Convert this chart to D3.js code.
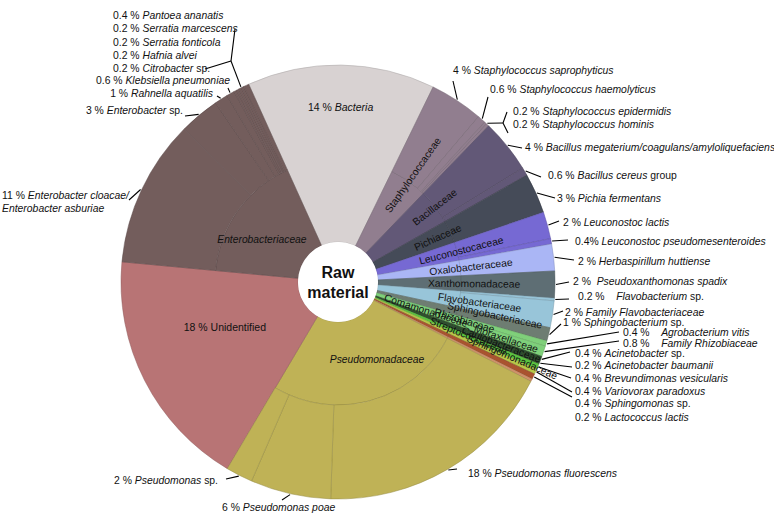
<!DOCTYPE html>
<html>
<head>
<meta charset="utf-8">
<script src="https://cdn.jsdelivr.net/npm/d3@7"></script>
<style>
body { margin: 0; background: #fff; }
svg text { font-family: "Liberation Sans", Arial, sans-serif; white-space: pre; fill: #111; }
</style>
</head>
<body>
<svg id="chart"></svg>
<script>
let width = 774
let height = 513
let cx = 338, cy = 282
let r0 = 40, r1 = 123, r2 = 217
let startDeg = -24.3

// families, clockwise from the top
let groups = ['Bacteria', 'Staphylococcaceae', 'Bacillaceae', 'Pichiaceae', 'Leuconostocaceae',
  'Oxalobacteraceae', 'Xanthomonadaceae', 'Flavobacteriaceae', 'Sphingobacteriaceae', 'Rhizobiaceae',
  'Moraxellaceae', 'Caulobacteraceae', 'Comamonadaceae', 'Sphingomonadaceae', 'Streptococcaceae',
  'Pseudomonadaceae', 'Unidentified', 'Enterobacteriaceae']

let groupColors = ['#d8d2d2', '#917e8f', '#625877', '#454b58', '#7669d3',
  '#aab6f5', '#5e6e74', '#98c5d9', '#6e7d72', '#7fd07a',
  '#2f4f2e', '#5cc43f', '#b5c84a', '#a9532f', '#d2916a',
  '#bfb256', '#b87475', '#735d5c']

// only used by groups that have no species below them
let groupValues = [14, null, null, null, null, null, null, null, null, null,
  null, null, null, null, null, null, 18, null]

let species = [
  [],
  ['Staphylococcus saprophyticus', 'Staphylococcus haemolyticus', 'Staphylococcus epidermidis', 'Staphylococcus hominis'],
  ['Bacillus megaterium/coagulans/amyloliquefaciens', 'Bacillus cereus group'],
  ['Pichia fermentans'],
  ['Leuconostoc lactis', 'Leuconostoc pseudomesenteroides'],
  ['Herbaspirillum huttiense'],
  ['Pseudoxanthomonas spadix'],
  ['Flavobacterium sp.', 'Family Flavobacteriaceae'],
  ['Sphingobacterium sp.'],
  ['Agrobacterium vitis', 'Family Rhizobiaceae'],
  ['Acinetobacter sp.', 'Acinetobacter baumanii'],
  ['Brevundimonas vesicularis'],
  ['Variovorax paradoxus'],
  ['Sphingomonas sp.'],
  ['Lactococcus lactis'],
  ['Pseudomonas fluorescens', 'Pseudomonas poae', 'Pseudomonas sp.'],
  [],
  ['Enterobacter cloacae/Enterobacter asburiae', 'Enterobacter sp.', 'Rahnella aquatilis', 'Klebsiella pneumoniae',
   'Citrobacter sp.', 'Hafnia alvei', 'Serratia fonticola', 'Serratia marcescens', 'Pantoea ananatis']
]

let speciesValues = [
  [],
  [4, 0.6, 0.2, 0.2],
  [4, 0.6],
  [3],
  [2, 0.4],
  [2],
  [2],
  [0.2, 2],
  [1],
  [0.4, 0.8],
  [0.4, 0.2],
  [0.4],
  [0.4],
  [0.4],
  [0.2],
  [18, 6, 2],
  [],
  [11, 3, 1, 0.6, 0.2, 0.2, 0.2, 0.2, 0.4]
]

// ---- layout of labels ----
// radial family labels: [start radius, angle nudge in degrees]
let radialLabels = {
  'Staphylococcaceae': [86, 0], 'Bacillaceae': [96, 0], 'Pichiaceae': [84, 0],
  'Leuconostocaceae': [84, 0], 'Oxalobacteraceae': [92, 0], 'Xanthomonadaceae': [90, 0],
  'Flavobacteriaceae': [101, 0], 'Sphingobacteriaceae': [112, -2], 'Rhizobiaceae': [101, -1],
  'Moraxellaceae': [144, -2.5], 'Caulobacteraceae': [133, -2], 'Comamonadaceae': [49, -6.5],
  'Sphingomonadaceae': [141, -2.5], 'Streptococcaceae': [100, -4.5]
}
// flat labels: [radius, angle nudge]
let flatLabels = {
  'Bacteria': [175, 0], 'Unidentified': [122, 5],
  'Enterobacteriaceae': [87, -6.5], 'Pseudomonadaceae': [87, -10.6]
}
// species labels: [x, y, anchor, leader end x, leader end y]
let speciesLabels = {
  'Enterobacter cloacae/Enterobacter asburiae': [2, 195, 'start', 129, 200],
  'Enterobacter sp.': [183, 110, 'end', 185, 116],
  'Rahnella aquatilis': [213, 93, 'end', 217, 96],
  'Klebsiella pneumoniae': [230, 80, 'end', 228, 88],
  'Pantoea ananatis': [113, 15, 'start'],
  'Serratia marcescens': [113, 28, 'start'],
  'Serratia fonticola': [113, 42, 'start'],
  'Hafnia alvei': [113, 55, 'start'],
  'Citrobacter sp.': [113, 68, 'start'],
  'Staphylococcus saprophyticus': [453, 70, 'start', 453, 81],
  'Staphylococcus haemolyticus': [490, 89, 'start', 488, 97],
  'Staphylococcus epidermidis': [513, 111, 'start'],
  'Staphylococcus hominis': [513, 124, 'start'],
  'Bacillus megaterium/coagulans/amyloliquefaciens': [525, 147, 'start', 522, 148],
  'Bacillus cereus group': [548, 175, 'start', 541, 177],
  'Pichia fermentans': [557, 198, 'start', 555, 198],
  'Leuconostoc lactis': [563, 222, 'start', 559, 221],
  'Leuconostoc pseudomesenteroides': [575, 241, 'start', 568, 240],
  'Herbaspirillum huttiense': [578, 261, 'start', 574, 260],
  'Pseudoxanthomonas spadix': [573, 281, 'start', 569, 282],
  'Flavobacterium sp.': [578, 296, 'start', 569, 299],
  'Family Flavobacteriaceae': [565, 312, 'start', 563, 311],
  'Sphingobacterium sp.': [563, 322, 'start', 561, 324],
  'Agrobacterium vitis': [623, 332, 'start', 619, 332],
  'Family Rhizobiaceae': [623, 343, 'start', 619, 341],
  'Acinetobacter sp.': [575, 353, 'start', 570, 352],
  'Acinetobacter baumanii': [575, 365, 'start', 572, 367],
  'Brevundimonas vesicularis': [575, 378, 'start', 571, 378],
  'Variovorax paradoxus': [575, 391, 'start', 572, 392],
  'Sphingomonas sp.': [575, 403, 'start', 572, 397],
  'Lactococcus lactis': [575, 417, 'start'],
  'Pseudomonas fluorescens': [468, 473, 'start', 457, 469],
  'Pseudomonas poae': [222, 507, 'start', 282, 500],
  'Pseudomonas sp.': [218, 480, 'end', 226, 479]
}
// text between number and name, where it is not ' % '
let pctSep = {
  'Leuconostoc pseudomesenteroides': '% ',
  'Pseudoxanthomonas spadix': ' %  ',
  'Flavobacterium sp.': ' %    ',
  'Agrobacterium vitis': ' %    ',
  'Family Rhizobiaceae': ' %    '
}
// brackets that gather several small slices
let forks = [
  {members: ['Citrobacter sp.', 'Hafnia alvei', 'Serratia fonticola', 'Serratia marcescens', 'Pantoea ananatis'],
   joint: [231, 61], ends: [[235, 29], [205, 69]]},
  {members: ['Staphylococcus epidermidis', 'Staphylococcus hominis'],
   joint: [503, 123], ends: [[507, 112], [508, 133]]}
]

let labelSize = 10.4

let svg = d3.select('#chart')
let a0 = startDeg * Math.PI / 180

let drawCanvas = () => {
  svg.attr('width', width).attr('height', height)
}

let buildTree = () => {
  let data = {
    name: 'Raw material',
    children: groups.map((gName, i) => {
      let node = {name: gName, color: groupColors[i]}
      if (species[i].length) {
        node.children = species[i].map((s, j) => ({name: s, value: speciesValues[i][j], color: groupColors[i]}))
      } else {
        node.value = groupValues[i]
      }
      return node
    })
  }
  let root = d3.hierarchy(data).sum(d => d.children ? 0 : d.value)
  d3.partition().size([2 * Math.PI, 1])(root)
  return root
}

let polar = (r, a) => [cx + r * Math.sin(a), cy - r * Math.cos(a)]

let root = buildTree()

let arc = d3.arc()
  .startAngle(d => d.x0 + a0)
  .endAngle(d => d.x1 + a0)
  .innerRadius(d => d.depth === 1 ? r0 : r1)
  .outerRadius(d => (d.depth === 1 && d.children) ? r1 : r2)

let drawSlices = () => {
  let g = svg.append('g').attr('transform', 'translate(' + cx + ',' + cy + ')')
  g.selectAll('path')
    .data(root.descendants().filter(d => d.depth > 0))
    .enter()
    .append('path')
    .attr('d', arc)
    .attr('fill', d => d.data.color)
    .attr('stroke', d => d3.color(d.data.color).darker(0.7))
    .attr('stroke-width', 0.5)

  g.append('circle').attr('r', r0).attr('fill', '#fff')

  g.append('text').attr('text-anchor', 'middle').attr('y', -10).attr('dy', '0.35em')
    .attr('font-size', 16).attr('font-weight', 'bold').text('Raw')
  g.append('text').attr('text-anchor', 'middle').attr('y', 10).attr('dy', '0.35em')
    .attr('font-size', 16).attr('font-weight', 'bold').text('material')
}

let drawGroupLabels = () => {
  root.children.forEach(d => {
    let mid = (d.x0 + d.x1) / 2 + a0
    let name = d.data.name
    if (radialLabels[name]) {
      let [rs, nudge] = radialLabels[name]
      let deg = mid * 180 / Math.PI + nudge
      svg.append('text')
        .attr('transform', 'translate(' + cx + ',' + cy + ') rotate(' + (deg - 90) + ') translate(' + rs + ',0)')
        .attr('dy', '0.35em')
        .attr('font-size', 10.3)
        .text(name)
    } else if (flatLabels[name]) {
      let [r, nudge] = flatLabels[name]
      let [x, y] = polar(r, mid + nudge * Math.PI / 180)
      let t = svg.append('text').attr('x', x).attr('y', y).attr('dy', '0.35em')
        .attr('text-anchor', 'middle').attr('font-size', 10.5)
      if (d.children) {
        t.attr('font-style', 'italic').attr('font-size', 10.3).text(name)
      } else {
        t.append('tspan').text(d.value + ' % ')
        let tn = t.append('tspan').text(name)
        if (name === 'Bacteria') tn.attr('font-style', 'italic')
      }
    }
  })
}

let writeName = (t, name) => {
  let m = name.match(/^(.*?)( sp\.| group)$/)
  if (m) {
    t.append('tspan').attr('font-style', 'italic').text(m[1])
    t.append('tspan').text(m[2])
  } else {
    t.append('tspan').attr('font-style', 'italic').text(name)
  }
}

let drawSpeciesLabels = () => {
  let leaves = root.leaves().filter(d => d.depth === 2)
  let lines = svg.append('g').attr('stroke', '#000').attr('stroke-width', 1.1).attr('fill', 'none')

  leaves.forEach(d => {
    let name = d.data.name
    let pos = speciesLabels[name]
    if (!pos) return
    let [x, y, anchor, ex, ey] = pos
    let pct = d.value + (pctSep[name] || ' % ')
    let t = svg.append('text').attr('x', x).attr('y', y).attr('dy', '0.35em')
      .attr('text-anchor', anchor).attr('font-size', labelSize)
    if (name.includes('/Enterobacter')) {
      let parts = name.split('/')
      t.append('tspan').text(pct)
      t.append('tspan').attr('font-style', 'italic').text(parts[0] + '/')
      svg.append('text').attr('x', x).attr('y', y + 13).attr('dy', '0.35em')
        .attr('font-size', labelSize).attr('font-style', 'italic').text(parts[1])
    } else {
      t.append('tspan').text(pct)
      writeName(t, name)
    }
    if (ex !== undefined) {
      let [sx, sy] = polar(r2 + 1, (d.x0 + d.x1) / 2 + a0)
      lines.append('line').attr('x1', sx).attr('y1', sy).attr('x2', ex).attr('y2', ey)
    }
  })

  forks.forEach(f => {
    let nodes = leaves.filter(d => f.members.includes(d.data.name))
    let lo = d3.min(nodes, d => d.x0), hi = d3.max(nodes, d => d.x1)
    let [sx, sy] = polar(r2 + 1, (lo + hi) / 2 + a0)
    lines.append('line').attr('x1', sx).attr('y1', sy).attr('x2', f.joint[0]).attr('y2', f.joint[1])
    f.ends.forEach(e => {
      lines.append('line').attr('x1', f.joint[0]).attr('y1', f.joint[1]).attr('x2', e[0]).attr('y2', e[1])
    })
  })
}

drawCanvas()
drawSlices()
drawGroupLabels()
drawSpeciesLabels()
</script>
</body>
</html>
